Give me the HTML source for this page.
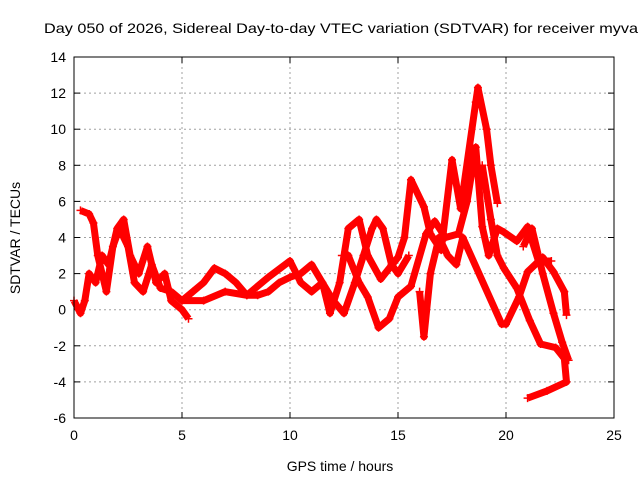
<!DOCTYPE html>
<html><head><meta charset="utf-8"><style>
body{margin:0;background:#fff;font-family:"Liberation Sans",sans-serif}
svg text{font-family:"Liberation Sans",sans-serif;font-size:14px;fill:#000}
</style></head><body>
<svg id="c" width="640" height="480"></svg>
<script>
const xTicks=[0,5,10,15,20,25];
const yTicks=[-6,-4,-2,0,2,4,6,8,10,12,14];
const series1=[[0,0.5],[0.3,-0.2],[0.5,0.5],[0.7,2],[1,1.5],[1.3,3],[1.6,2.5],[2,4.5],[2.3,5],[2.6,3],[3,2],[3.4,3.5],[3.8,1.5],[4.2,2],[4.5,0.5],[5,0],[5.3,-0.5]];
const series2=[[0.3,5.5],[0.7,5.3],[0.9,4.8],[1.1,3],[1.3,2],[1.5,1],[1.8,3.5],[2.1,4.5],[2.5,3.5],[2.8,1.5],[3.2,1],[3.6,2.5],[4,1.2],[4.5,1],[5,0.5],[6,0.5],[7,1],[8,0.8],[9,1.8],[10,2.7],[10.5,1.5],[11,1],[11.5,1.5],[12,0.5],[12.5,-0.2],[13,1.5],[13.4,3],[13.8,4.5],[14,5],[14.3,4.5],[14.7,2.5],[15,2],[15.5,3]];
const series3=[[5,0.5],[5.5,1],[6,1.5],[6.5,2.3],[7,2],[7.5,1.5],[8,0.8],[8.5,0.8],[9,1],[9.5,1.5],[10,1.8],[10.5,2],[11,2.5],[11.5,1.5],[11.85,-0.2],[12.3,1.5],[12.7,4.5],[13.2,5],[13.6,3],[14.2,1.7],[15,2.9],[15.3,4],[15.6,7.2],[16.2,5.7],[16.5,4.2],[17,3.3],[17.5,8.3],[17.9,5.6],[18.6,11.5],[18.7,12.3],[19.1,10],[19.3,8],[19.6,5.9]];
const series4=[[12.4,3],[12.7,3],[13.2,1.5],[13.6,0.7],[14.1,-1],[14.6,-0.5],[15,0.7],[15.6,1.3],[16.3,4.2],[16.7,4.9],[17.2,4],[17.8,4.2],[18.2,6],[18.6,9],[18.9,4.6],[19.2,3],[19.6,4.5],[19.9,4.3],[20.5,3.8],[21,4.6],[21.5,2.7],[22.1,2.7]];
const series5=[[18.9,8],[19.3,5],[19.6,3],[19.9,2.3],[20.5,1.2],[21.1,-0.6],[21.6,-1.9],[22.3,-2.1],[22.7,-2.7],[22.8,-4],[21.9,-4.5],[21,-4.9]];
const series6=[[16,1],[16.2,-1.5],[16.5,2],[16.9,4],[17.3,3],[17.7,2.5],[18,4],[19.8,-0.8],[20,-0.8],[20.6,0.7],[21,2.1],[21.7,2.9],[22.2,2.1],[22.7,1],[22.8,-0.3]];
const series7=[[20.8,3.5],[21.2,4.5],[21.7,2],[22.2,-0.2],[22.6,-1.8],[22.9,-2.8]];
const allSeries=[series1,series2,series3,series4,series5,series6,series7];
const L=74,R=614,T=57,B=418;
const xs=t=>L+(t-0)/25*(R-L);
const ys=v=>B-(v+6)/20*(B-T);
const svg=document.getElementById('c');const NS='http://www.w3.org/2000/svg';
function mk(tag,attrs,parent){const e=document.createElementNS(NS,tag);for(const k in attrs)e.setAttribute(k,attrs[k]);(parent||svg).appendChild(e);return e;}
const grid=mk('g',{});


xTicks.forEach(t=>{const x=xs(t);
 if(t>0&&t<25){const g=mk('line',{x1:x,x2:x,y1:T,y2:B,stroke:'#a0a0a0','stroke-dasharray':'2,3'},grid);}
 mk('line',{x1:x,x2:x,y1:B,y2:B-6,stroke:'#000'});mk('line',{x1:x,x2:x,y1:T,y2:T+6,stroke:'#000'});
 const tx=mk('text',{x:x,y:B+22,'text-anchor':'middle'});tx.textContent=t;
 
 });
yTicks.forEach(v=>{const y=ys(v);
 if(v>-6&&v<14){const g=mk('line',{x1:L,x2:R,y1:y,y2:y,stroke:'#a0a0a0','stroke-dasharray':'2,3'},grid);}
 mk('line',{x1:L,x2:L+6,y1:y,y2:y,stroke:'#000'});mk('line',{x1:R,x2:R-6,y1:y,y2:y,stroke:'#000'});
 const tx=mk('text',{x:L-8,y:y+5,'text-anchor':'end'});tx.textContent=v;
 
 });
allSeries.forEach((s,i)=>{
 const p=mk('polyline',{points:s.map(d=>xs(d[0])+','+ys(d[1])).join(' '),fill:'none',stroke:'#ff0000','stroke-width':7,'stroke-linejoin':'round'});
 
 
 s.forEach(d=>{const x=xs(d[0]),y=ys(d[1]);
  const m=mk('path',{d:`M${x-4},${y}H${x+4}M${x},${y-4}V${y+4}`,stroke:'#ff0000','stroke-width':1.5});
  
  });
});
const fr=mk('rect',{x:L,y:T,width:R-L,height:B-T,fill:'none',stroke:'#000'});


const ti=mk('text',{x:44,y:33,'text-anchor':'start',textLength:594,lengthAdjust:'spacingAndGlyphs'});ti.textContent='Day 050 of 2026, Sidereal Day-to-day VTEC variation (SDTVAR) for receiver myva';


const xl=mk('text',{x:340,y:471,'text-anchor':'middle'});xl.textContent='GPS time / hours';


const yl=mk('text',{x:0,y:0,'text-anchor':'middle',transform:'translate(20,238) rotate(-90)'});yl.textContent='SDTVAR / TECUs';


</script>
</body></html>
